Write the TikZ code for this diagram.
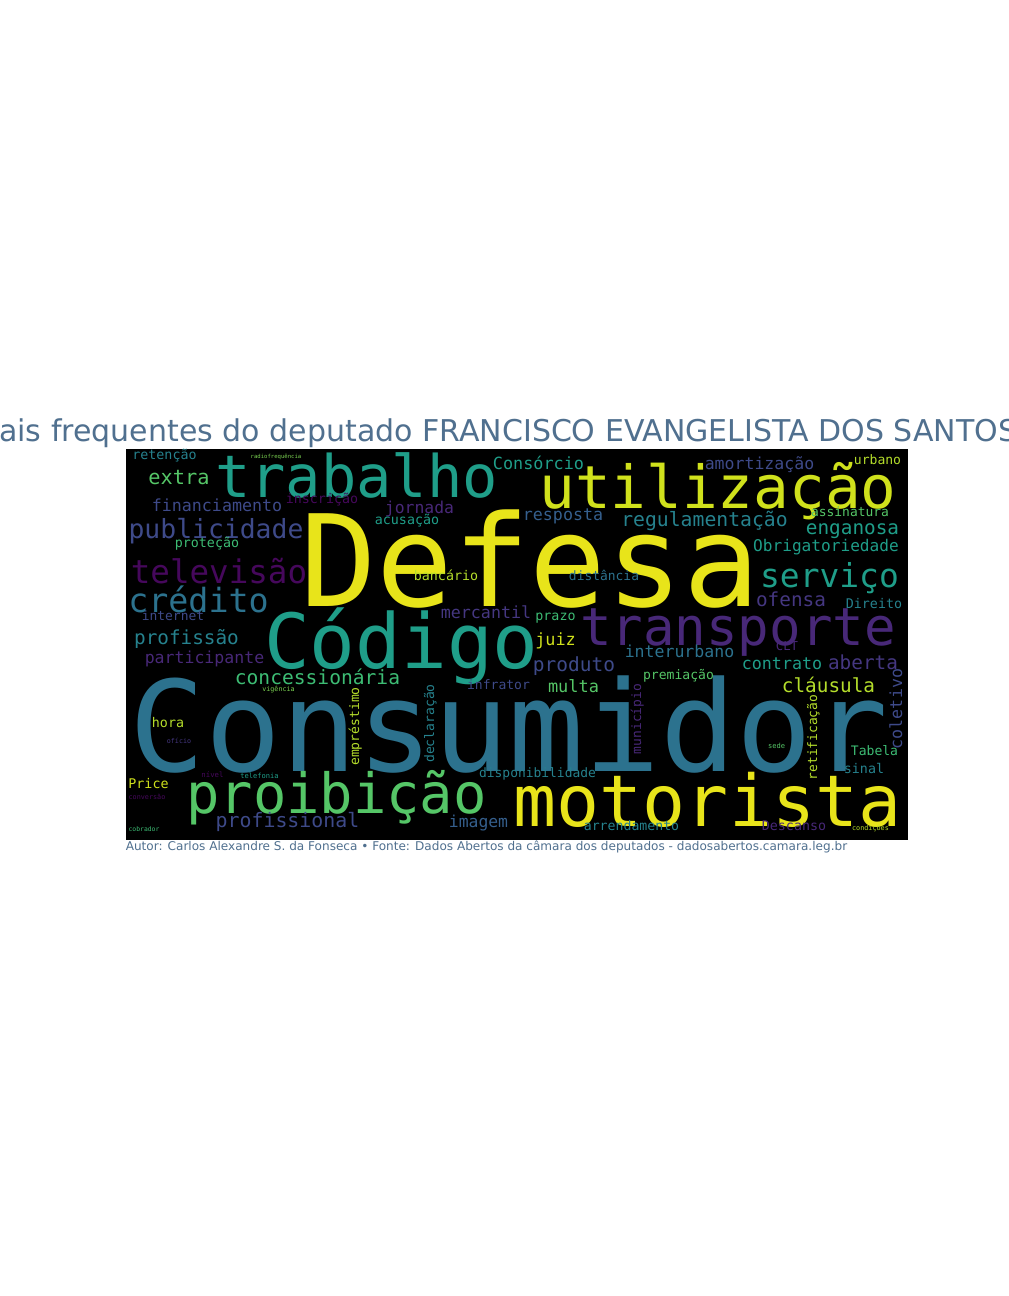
\documentclass[tikz,border=0pt]{standalone}
\usepackage{fontspec}
\setmainfont{DejaVu Sans}
\newfontfamily\cloudfont{DejaVu Sans Mono}
\usepackage{tikz}

\definecolor{titleblue}{HTML}{50708F}
\definecolor{wYellow}{HTML}{E8E41A}
\definecolor{wLime}{HTML}{D0E11C}
\definecolor{wOlive}{HTML}{B5DE2B}
\definecolor{wLightGreen}{HTML}{7AD151}
\definecolor{wGreen}{HTML}{55C667}
\definecolor{wSea}{HTML}{3DBC74}
\definecolor{wTeal}{HTML}{1F9E89}
\definecolor{wTealBlue}{HTML}{26828E}
\definecolor{wBlue}{HTML}{2C728E}
\definecolor{wSteel}{HTML}{355F8D}
\definecolor{wIndigo}{HTML}{3E4A89}
\definecolor{wViolet}{HTML}{453781}
\definecolor{wPurple}{HTML}{482878}
\definecolor{wPlum}{HTML}{46085C}

\newcommand{\wsize}[1]{\cloudfont\fontsize{#1}{#1}\selectfont}
\tikzset{
  word/.style={anchor=base, inner sep=0pt},
  upword/.style={word, rotate=90},
}

\begin{document}
\begin{tikzpicture}[x=0.75pt,y=0.75pt,yscale=-1]
        % Page, 1008 x 1296
        \path [use as bounding box, fill=white] (0,0) rectangle (1008,1296);

        % Cloud panel
        \fill [black] (126,449) rectangle (908,840);

        % Title
        \draw (-1,441) node (title) [anchor=base west, inner sep=0pt, text=titleblue, font=\fontsize{22.5}{23}\selectfont] {ais frequentes do deputado FRANCISCO EVANGELISTA DOS SANTOS};

        % Big words
        \draw (530,606) node (defesa) [word, text=wYellow, font=\wsize{95.5}] {Defesa};
        \draw (509,771) node (consumidor) [word, text=wBlue, font=\wsize{94.5}] {Consumidor};
        \draw (401.5,668) node (codigo) [word, text=wTeal, font=\wsize{57}] {Código};
        \draw (707.5,826) node (motorista) [word, text=wYellow, font=\wsize{53.6}] {motorista};
        \draw (356.5,497) node (trabalho) [word, text=wTeal, font=\wsize{44}] {trabalho};
        \draw (718,508) node (utilizacao) [word, text=wLime, font=\wsize{44.5}] {utilização};
        \draw (336.5,813) node (proibicao) [word, text=wGreen, font=\wsize{41.6}] {proibição};
        \draw (738,645) node (transporte) [word, text=wPurple, font=\wsize{39.3}] {transporte};

        % Middle words
        \draw (219,583) node (televisao) [word, text=wPlum, font=\wsize{24.4}] {televisão};
        \draw (198.5,612) node (credito) [word, text=wBlue, font=\wsize{25}] {crédito};
        \draw (829.5,587) node (servico) [word, text=wTeal, font=\wsize{24.7}] {serviço};
        \draw (216,538) node (publicidade) [word, text=wIndigo, font=\wsize{19.8}] {publicidade};
        \draw (179,484) node (extra) [word, text=wGreen, font=\wsize{15.2}] {extra};
        \draw (704.5,526) node (regulamentacao) [word, text=wTealBlue, font=\wsize{14.8}] {regulamentação};
        \draw (852.5,534) node (enganosa) [word, text=wTeal, font=\wsize{14.5}] {enganosa};
        \draw (791,606) node (ofensa) [word, text=wViolet, font=\wsize{14.5}] {ofensa};
        \draw (186.5,644) node (profissao) [word, text=wTealBlue, font=\wsize{14.5}] {profissão};
        \draw (574,671) node (produto) [word, text=wIndigo, font=\wsize{14.6}] {produto};
        \draw (317.5,684) node (concessionaria) [word, text=wSea, font=\wsize{14.7}] {concessionária};
        \draw (863,669) node (aberta) [word, text=wViolet, font=\wsize{14.5}] {aberta};
        \draw (828.5,692) node (clausula) [word, text=wOlive, font=\wsize{14.5}] {cláusula};
        \draw (287.5,827) node (profissional) [word, text=wIndigo, font=\wsize{14.9}] {profissional};

        % Small words
        \draw (217,511) node (financiamento) [word, text=wIndigo, font=\wsize{12.5}] {financiamento};
        \draw (419.5,513) node (jornada) [word, text=wPurple, font=\wsize{12.3}] {jornada};
        \draw (538.5,469) node (consorcio) [word, text=wTeal, font=\wsize{12.6}] {Consórcio};
        \draw (563,520) node (resposta) [word, text=wSteel, font=\wsize{12.5}] {resposta};
        \draw (759.5,469) node (amortizacao) [word, text=wIndigo, font=\wsize{12.4}] {amortização};
        \draw (826,551) node (obrigatoriedade) [word, text=wTeal, font=\wsize{12.1}] {Obrigatoriedade};
        \draw (486,618) node (mercantil) [word, text=wViolet, font=\wsize{12.5}] {mercantil};
        \draw (204.5,663) node (participante) [word, text=wPurple, font=\wsize{12.4}] {participante};
        \draw (555.5,645) node (juiz) [word, text=wLime, font=\wsize{12.6}] {juiz};
        \draw (679.5,657) node (interurbano) [word, text=wBlue, font=\wsize{12.4}] {interurbano};
        \draw (782,669) node (contrato) [word, text=wTeal, font=\wsize{12.5}] {contrato};
        \draw (573.5,692) node (multa) [word, text=wGreen, font=\wsize{12.7}] {multa};
        \draw (478.5,827) node (imagem) [word, text=wSteel, font=\wsize{12.3}] {imagem};
        \draw (902,709) node (coletivo) [upword, text=wIndigo, font=\wsize{12.5}] {coletivo};

        % Tiny words
        \draw (164.5,459) node (retencao) [word, text=wTealBlue, font=\wsize{10}] {retenção};
        \draw (322,503) node (inscricao) [word, text=wPlum, font=\wsize{10}] {inscrição};
        \draw (207,547) node (protecao) [word, text=wSea, font=\wsize{10}] {proteção};
        \draw (407,524) node (acusacao) [word, text=wTeal, font=\wsize{10}] {acusação};
        \draw (877.5,464) node (urbano) [word, text=wOlive, font=\wsize{9.8}] {urbano};
        \draw (850,516) node (assinatura) [word, text=wGreen, font=\wsize{9.7}] {assinatura};
        \draw (446,580) node (bancario) [word, text=wOlive, font=\wsize{10}] {bancário};
        \draw (604,580) node (distancia) [word, text=wBlue, font=\wsize{9.7}] {distância};
        \draw (874,608) node (direito) [word, text=wTealBlue, font=\wsize{10}] {Direito};
        \draw (173,620) node (internet) [word, text=wIndigo, font=\wsize{9.7}] {internet};
        \draw (555.5,620) node (prazo) [word, text=wSea, font=\wsize{10}] {prazo};
        \draw (787,650) node (clt) [word, text=wPurple, font=\wsize{9.2}] {CLT};
        \draw (498.5,689) node (infrator) [word, text=wIndigo, font=\wsize{9.8}] {infrator};
        \draw (678.5,679) node (premiacao) [word, text=wGreen, font=\wsize{9.8}] {premiação};
        \draw (168,727) node (hora) [word, text=wOlive, font=\wsize{10}] {hora};
        \draw (874.5,755) node (tabela) [word, text=wSea, font=\wsize{9.8}] {Tabela};
        \draw (864,773) node (sinal) [word, text=wTealBlue, font=\wsize{10}] {sinal};
        \draw (537.5,777) node (disponibilidade) [word, text=wTealBlue, font=\wsize{9.7}] {disponibilidade};
        \draw (148.5,788) node (price) [word, text=wLime, font=\wsize{10}] {Price};
        \draw (631.5,830) node (arrendamento) [word, text=wTealBlue, font=\wsize{9.9}] {arrendamento};
        \draw (794,830) node (descanso) [word, text=wPurple, font=\wsize{10}] {Descanso};
        \draw (359,726.5) node (emprestimo) [upword, text=wOlive, font=\wsize{9.8}] {empréstimo};
        \draw (434,723.5) node (declaracao) [upword, text=wTealBlue, font=\wsize{9.8}] {declaração};
        \draw (641,719) node (municipio) [upword, text=wPurple, font=\wsize{9.7}] {município};
        \draw (817,737.5) node (retificacao) [upword, text=wOlive, font=\wsize{9.7}] {retificação};

        % Smallest words
        \draw (276,458) node (radiofrequencia) [word, text=wLightGreen, font=\wsize{4.2}] {radiofrequência};
        \draw (278.5,691) node (vigencia) [word, text=wLightGreen, font=\wsize{5}] {vigência};
        \draw (179,743) node (oficio) [word, text=wViolet, font=\wsize{5}] {ofício};
        \draw (776.5,748) node (sede) [word, text=wGreen, font=\wsize{5.3}] {sede};
        \draw (212.5,777) node (nivel) [word, text=wPlum, font=\wsize{5.5}] {nível};
        \draw (259.5,778) node (telefonia) [word, text=wTeal, font=\wsize{5.3}] {telefonia};
        \draw (147,799) node (conversao) [word, text=wPlum, font=\wsize{5.1}] {conversão};
        \draw (870.5,830) node (condicoes) [word, text=wOlive, font=\wsize{5.1}] {condições};
        \draw (144,831) node (cobrador) [word, text=wSea, font=\wsize{4.8}] {cobrador};

        % Credit line
        \draw (125.5,850) node (credit) [anchor=base west, inner sep=0pt, text=titleblue, font=\fontsize{9.05}{10}\selectfont] {Autor: Carlos Alexandre S. da Fonseca • Fonte: Dados Abertos da câmara dos deputados - dadosabertos.camara.leg.br};
    \end{tikzpicture}
\end{document}
